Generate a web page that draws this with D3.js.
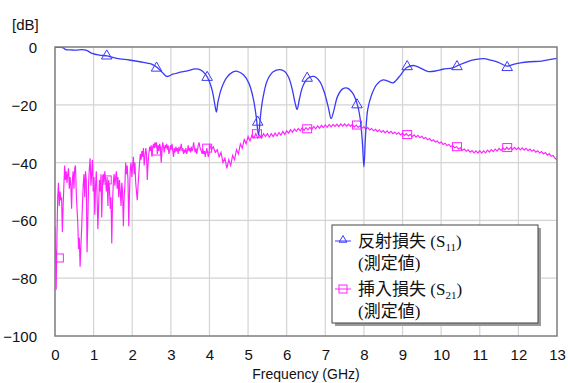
<!DOCTYPE html>
<html>
<head>
<meta charset="utf-8">
<script src="https://cdn.jsdelivr.net/npm/d3@7"></script>
<style>
  body { margin: 0; background: #fff; }
  svg { display: block; }
  .tick text { font-family: "Liberation Sans", Arial, sans-serif; font-size: 15px; fill: #111; }
</style>
</head>
<body>
<div id="chart"></div>
<script>
  /*
    Data
  */

  // x axis ticks (GHz) and y axis ticks (dB)
  let xTicks = [0, 1, 2, 3, 4, 5, 6, 7, 8, 9, 10, 11, 12, 13]
  let yTicks = [0, -20, -40, -60, -80, -100]

  // reflection loss S11 : [GHz, dB]
  let s11 = [
    [0.00, -0.1], [0.20, -0.2], [0.28, -0.9], [0.40, -1.0], [0.55, -1.1], [0.70, -0.9],
    [0.82, -1.2], [0.96, -2.2], [1.15, -2.8], [1.35, -3.1], [1.60, -3.9], [1.92, -4.5],
    [2.20, -5.1], [2.50, -5.9], [2.64, -7.0], [2.78, -8.8], [2.90, -10.2], [3.05, -9.4],
    [3.20, -8.9], [3.45, -8.2], [3.63, -7.6], [3.78, -8.0], [3.90, -9.5], [4.00, -12],
    [4.08, -15.5], [4.14, -20], [4.18, -22.5], [4.22, -19], [4.32, -14], [4.45, -10.5],
    [4.60, -8.7], [4.72, -8.4], [4.88, -9.6], [5.02, -12.5], [5.13, -17.5], [5.21, -24],
    [5.27, -30.5], [5.32, -24], [5.38, -18], [5.50, -11.5], [5.65, -8.6], [5.82, -7.8],
    [5.95, -8.5], [6.05, -10.5], [6.15, -15], [6.22, -19.5], [6.27, -21.6], [6.33, -18],
    [6.42, -13.5], [6.55, -10.8], [6.70, -10.2], [6.85, -11.8], [6.97, -15.5], [7.08, -21],
    [7.15, -24.8], [7.22, -22], [7.32, -17], [7.45, -14.5], [7.57, -14.2], [7.70, -15.8],
    [7.82, -19.5], [7.90, -24.5], [7.96, -33], [8.00, -41.5], [8.04, -31], [8.10, -21.5],
    [8.20, -16.5], [8.33, -13], [8.50, -11.4], [8.62, -11.8], [8.75, -12.4], [8.92, -10.2],
    [9.10, -7.2], [9.28, -6.4], [9.45, -7.2], [9.67, -8.5], [9.85, -8.3], [10.05, -7.7],
    [10.30, -7.2], [10.45, -6.3], [10.65, -5.2], [10.90, -4.3], [11.10, -4.0], [11.30, -4.6],
    [11.48, -5.3], [11.70, -6.6], [11.85, -6.1], [12.05, -5.5], [12.30, -5.1], [12.60, -4.9],
    [12.80, -4.4], [13.00, -3.9]
  ]

  // insertion loss S21 : [GHz, dB]
  let s21 = [
    [0.00, -62], [0.02, -75], [0.03, -84], [0.05, -66], [0.07, -52], [0.09, -47], [0.11, -55],
    [0.13, -50], [0.15, -53], [0.17, -52], [0.19, -64], [0.21, -55], [0.23, -48], [0.25, -41],
    [0.27, -46], [0.29, -43], [0.31, -47], [0.33, -44], [0.35, -42], [0.37, -49], [0.39, -45],
    [0.41, -48], [0.43, -56], [0.45, -46], [0.47, -43], [0.49, -49], [0.51, -42], [0.53, -41],
    [0.55, -50], [0.57, -56], [0.59, -61], [0.61, -70], [0.63, -66], [0.65, -76], [0.67, -69],
    [0.69, -63], [0.71, -55], [0.73, -48], [0.75, -44], [0.77, -52], [0.79, -43], [0.81, -46],
    [0.83, -71], [0.85, -60], [0.87, -47], [0.89, -42], [0.91, -38.5], [0.93, -48], [0.95, -44],
    [0.97, -39], [0.99, -50], [1.01, -45], [1.03, -58], [1.05, -48], [1.07, -43], [1.09, -52],
    [1.11, -63], [1.13, -55], [1.15, -46], [1.17, -50], [1.19, -44], [1.21, -59], [1.23, -48],
    [1.25, -44], [1.27, -47], [1.29, -43], [1.31, -46], [1.33, -50], [1.35, -45], [1.37, -55],
    [1.39, -46], [1.41, -49], [1.43, -56], [1.45, -52], [1.47, -68], [1.49, -54], [1.51, -47],
    [1.53, -44], [1.55, -48], [1.57, -45], [1.59, -43], [1.61, -49], [1.63, -45], [1.65, -52],
    [1.67, -46], [1.69, -50], [1.71, -55], [1.73, -47], [1.75, -50], [1.77, -62], [1.79, -52],
    [1.81, -48], [1.83, -40], [1.85, -44], [1.87, -41], [1.89, -46], [1.91, -62], [1.93, -50],
    [1.95, -42], [1.97, -40], [1.99, -45], [2.01, -41], [2.03, -38], [2.05, -44], [2.07, -40],
    [2.09, -47], [2.11, -50], [2.13, -53], [2.15, -48], [2.17, -44], [2.19, -40], [2.21, -37],
    [2.23, -39], [2.25, -36], [2.27, -38], [2.29, -35], [2.31, -41], [2.33, -38], [2.35, -35],
    [2.37, -37], [2.39, -46], [2.41, -40], [2.43, -37], [2.45, -34.5], [2.47, -36], [2.49, -34],
    [2.51, -38], [2.53, -35], [2.55, -33.5], [2.57, -35], [2.59, -33], [2.61, -34.5], [2.63, -33],
    [2.65, -37], [2.67, -34], [2.69, -36], [2.71, -33.5], [2.73, -35], [2.75, -40], [2.77, -36],
    [2.79, -33], [2.81, -34.5], [2.83, -36.5], [2.85, -34], [2.87, -35], [2.89, -33.5], [2.91, -35.5],
    [2.93, -34], [2.95, -37], [2.97, -36], [2.99, -34], [3.01, -35.5], [3.03, -33.5], [3.05, -36],
    [3.07, -38], [3.09, -35], [3.11, -36.5], [3.13, -34.5], [3.15, -36], [3.17, -35], [3.19, -37],
    [3.21, -34.5], [3.23, -36], [3.25, -35], [3.27, -33.5], [3.29, -36], [3.31, -35], [3.33, -37],
    [3.35, -35.5], [3.37, -36.5], [3.39, -35], [3.41, -37], [3.43, -36], [3.45, -34], [3.47, -36],
    [3.49, -35], [3.51, -36.5], [3.53, -34.5], [3.55, -36], [3.57, -35], [3.59, -33], [3.61, -35],
    [3.63, -36.5], [3.65, -35], [3.67, -37], [3.69, -35.5], [3.71, -34], [3.73, -33], [3.75, -34.5],
    [3.77, -35.5], [3.79, -36], [3.81, -37], [3.83, -35.5], [3.85, -37], [3.87, -36], [3.89, -38],
    [3.91, -36.5], [3.93, -35], [3.95, -36.5], [3.97, -38], [3.99, -37],
    [4.00, -33.5], [4.05, -35.5], [4.10, -34.5], [4.15, -36.5], [4.20, -35.5], [4.25, -38],
    [4.30, -36.5], [4.35, -40], [4.40, -38.5], [4.45, -42], [4.50, -39], [4.55, -41], [4.60, -37.5],
    [4.65, -39], [4.70, -35.5], [4.75, -37], [4.80, -33.5], [4.85, -35], [4.90, -32], [4.95, -33.5],
    [5.00, -31], [5.05, -32.5], [5.10, -30.5], [5.15, -31.5], [5.20, -30], [5.25, -31.5], [5.30, -30.5],
    [5.35, -31.5], [5.40, -30], [5.45, -31], [5.50, -30], [5.55, -31.2], [5.60, -30], [5.65, -31],
    [5.70, -29.8], [5.75, -30.8], [5.80, -29.6], [5.85, -30.5], [5.90, -29.2], [5.95, -30.2],
    [6.00, -29], [6.05, -29.8], [6.10, -28.6], [6.15, -29.5], [6.20, -28.4], [6.25, -29.2],
    [6.30, -28.2], [6.35, -29], [6.40, -28], [6.45, -28.9], [6.50, -27.9], [6.55, -28.7],
    [6.60, -27.8], [6.65, -28.5], [6.70, -27.5], [6.75, -28.3], [6.80, -27.3], [6.85, -28.1],
    [6.90, -27.1], [6.95, -27.9], [7.00, -27], [7.05, -27.8], [7.10, -26.8], [7.15, -27.6],
    [7.20, -26.8], [7.25, -27.5], [7.30, -26.7], [7.35, -27.5], [7.40, -26.6], [7.45, -27.4],
    [7.50, -26.6], [7.55, -27.4], [7.60, -26.7], [7.65, -27.5], [7.70, -26.8], [7.75, -27.7],
    [7.80, -27], [7.85, -27.8], [7.90, -27.3], [7.95, -28.1], [8.00, -27.6], [8.05, -28.4],
    [8.10, -27.9], [8.15, -28.7], [8.20, -28.2], [8.25, -29], [8.30, -28.5], [8.35, -29.3],
    [8.40, -28.7], [8.45, -29.5], [8.50, -28.9], [8.55, -29.7], [8.60, -29], [8.65, -29.8],
    [8.70, -29.2], [8.75, -30], [8.80, -29.4], [8.85, -30.2], [8.90, -29.6], [8.95, -30.4],
    [9.00, -29.8], [9.05, -30.6], [9.10, -30], [9.15, -30.8], [9.20, -30.2], [9.25, -31],
    [9.30, -30.4], [9.35, -31.2], [9.40, -30.6], [9.45, -31.4], [9.50, -30.9], [9.55, -31.7],
    [9.60, -31.3], [9.65, -32.1], [9.70, -31.7], [9.75, -32.5], [9.80, -32.1], [9.85, -32.9],
    [9.90, -32.5], [9.95, -33.3], [10.00, -32.9], [10.05, -33.7], [10.10, -33.3], [10.15, -34.1],
    [10.20, -33.7], [10.25, -34.5], [10.30, -34.1], [10.35, -34.9], [10.40, -34.5], [10.45, -35.3],
    [10.50, -34.9], [10.55, -35.7], [10.60, -35.3], [10.65, -36.1], [10.70, -35.6], [10.75, -36.4],
    [10.80, -35.8], [10.85, -36.6], [10.90, -35.9], [10.95, -36.7], [11.00, -35.9], [11.05, -36.7],
    [11.10, -35.9], [11.15, -36.6], [11.20, -35.7], [11.25, -36.4], [11.30, -35.5], [11.35, -36.2],
    [11.40, -35.3], [11.45, -36], [11.50, -35.1], [11.55, -35.8], [11.60, -34.9], [11.65, -35.6],
    [11.70, -34.7], [11.75, -35.5], [11.80, -34.7], [11.85, -35.5], [11.90, -34.7], [11.95, -35.5],
    [12.00, -34.8], [12.05, -35.6], [12.10, -34.9], [12.15, -35.7], [12.20, -35.1], [12.25, -35.9],
    [12.30, -35.3], [12.35, -36.1], [12.40, -35.6], [12.45, -36.4], [12.50, -35.9], [12.55, -36.7],
    [12.60, -36.2], [12.65, -37], [12.70, -36.5], [12.75, -37.4], [12.80, -36.9], [12.85, -37.8],
    [12.90, -37.5], [12.95, -38.5], [13.00, -39]
  ]

  // marker positions : [GHz, dB]
  let s11Markers = [[0.10, 1], [1.34, -3.1], [2.63, -7.3], [3.94, -10.5], [5.25, -26],
    [6.53, -10.8], [7.82, -20], [9.12, -6.8], [10.41, -6.8], [11.71, -7.1]]
  let s21Markers = [[0.10, -73], [1.34, -46], [2.63, -36], [3.94, -35], [5.23, -30],
    [6.53, -28.3], [7.82, -27], [9.12, -30.3], [10.41, -34.5], [11.71, -34.8]]

  let legendLines = [
    { name: '反射損失 (S', sub: '11', note: '(測定値)', color: '#3b3bf6', symbol: 'tri' },
    { name: '挿入損失 (S', sub: '21', note: '(測定値)', color: '#ff22ff', symbol: 'sq' }
  ]

  /*
    Chart setup
  */

  let width = 568, height = 383
  let plot = { left: 55, right: 557, top: 47, bottom: 336 }

  let svg = d3.select('#chart').append('svg')
    .attr('width', width)
    .attr('height', height)

  let x = d3.scaleLinear().domain([0, 13]).range([plot.left, plot.right])
  let y = d3.scaleLinear().domain([-100, 0]).range([plot.bottom, plot.top])

  svg.append('clipPath').attr('id', 'clip')
    .append('rect')
    .attr('x', plot.left).attr('y', plot.top)
    .attr('width', plot.right - plot.left).attr('height', plot.bottom - plot.top)

  // grid
  svg.append('g').selectAll('line.gx')
    .data(xTicks.slice(1, -1))
    .enter().append('line')
    .attr('x1', d => x(d)).attr('x2', d => x(d))
    .attr('y1', plot.top).attr('y2', plot.bottom)
    .attr('stroke', '#d4d4d4').attr('stroke-width', 1.2)

  svg.append('g').selectAll('line.gy')
    .data(yTicks.slice(1, -1))
    .enter().append('line')
    .attr('x1', plot.left).attr('x2', plot.right)
    .attr('y1', d => y(d)).attr('y2', d => y(d))
    .attr('stroke', '#d4d4d4').attr('stroke-width', 1.2)

  // axes labels
  let xAxis = svg.append('g')
    .attr('transform', 'translate(0,' + (plot.bottom + 13) + ')')
    .call(d3.axisBottom(x).tickValues(xTicks).tickSize(0).tickPadding(0))
  xAxis.select('.domain').remove()

  let yAxis = svg.append('g')
    .attr('transform', 'translate(' + (plot.left - 18) + ',0)')
    .call(d3.axisLeft(y).tickValues(yTicks).tickSize(0).tickPadding(0))
  yAxis.select('.domain').remove()
  yAxis.selectAll('text').attr('dy', '0.36em')

  svg.append('text')
    .attr('x', 12).attr('y', 30)
    .style('font-family', '"Liberation Sans", Arial, sans-serif')
    .style('font-size', '15px').attr('fill', '#111')
    .text('[dB]')

  svg.append('text')
    .attr('x', 306).attr('y', 379)
    .attr('text-anchor', 'middle')
    .style('font-family', '"Liberation Sans", Arial, sans-serif')
    .style('font-size', '14px').attr('fill', '#111')
    .text('Frequency (GHz)')

  /*
    Series
  */

  let lineGen = d3.line()
    .x(d => x(d[0]))
    .y(d => y(d[1]))

  let series = svg.append('g').attr('clip-path', 'url(#clip)')

  series.append('path')
    .datum(s21)
    .attr('fill', 'none')
    .attr('stroke', legendLines[1].color)
    .attr('stroke-width', 1.15)
    .attr('d', lineGen)

  series.append('path')
    .datum(s11)
    .attr('fill', 'none')
    .attr('stroke', legendLines[0].color)
    .attr('stroke-width', 1.3)
    .attr('d', lineGen.curve(d3.curveCatmullRom.alpha(0.5)))

  let tri = d3.symbol().type(d3.symbolTriangle).size(48)

  series.selectAll('.m11')
    .data(s11Markers)
    .enter().append('path')
    .attr('transform', d => 'translate(' + x(d[0]) + ',' + y(d[1]) + ')')
    .attr('d', tri)
    .attr('fill', 'none')
    .attr('stroke', legendLines[0].color)
    .attr('stroke-width', 1)

  series.selectAll('.m21')
    .data(s21Markers)
    .enter().append('rect')
    .attr('x', d => x(d[0]) - 4.5)
    .attr('y', d => y(d[1]) - 4)
    .attr('width', 9).attr('height', 8)
    .attr('fill', 'none')
    .attr('stroke', legendLines[1].color)
    .attr('stroke-width', 1)

  // frame
  svg.append('rect')
    .attr('x', plot.left).attr('y', plot.top)
    .attr('width', plot.right - plot.left).attr('height', plot.bottom - plot.top)
    .attr('fill', 'none')
    .attr('stroke', '#7c7c7c')
    .attr('stroke-width', 1.5)

  /*
    Legend
  */

  let legend = svg.append('g').attr('transform', 'translate(332,225)')

  legend.append('rect')
    .attr('x', 3).attr('y', 3).attr('width', 206).attr('height', 98)
    .attr('fill', '#9a9a9a')
  legend.append('rect')
    .attr('x', 0).attr('y', 0).attr('width', 206).attr('height', 98)
    .attr('fill', '#fff').attr('stroke', '#444').attr('stroke-width', 1)

  let entry = legend.selectAll('.entry')
    .data(legendLines)
    .enter().append('g')
    .attr('transform', (d, i) => 'translate(0,' + (i * 48) + ')')

  entry.append('line')
    .attr('x1', 3).attr('x2', 19).attr('y1', 16).attr('y2', 16)
    .attr('stroke', d => d.color).attr('stroke-width', 1)

  entry.filter(d => d.symbol === 'tri').append('path')
    .attr('transform', 'translate(11,15)')
    .attr('d', d3.symbol().type(d3.symbolTriangle).size(26))
    .attr('fill', 'none')
    .attr('stroke', d => d.color)

  entry.filter(d => d.symbol === 'sq').append('rect')
    .attr('x', 7).attr('y', 12).attr('width', 8).attr('height', 8)
    .attr('fill', 'none')
    .attr('stroke', d => d.color)

  let label = entry.append('text')
    .attr('x', 26).attr('y', 22)
    .style('font-family', '"Liberation Serif", "Noto Sans CJK JP", serif')
    .style('font-size', '17px').attr('fill', '#111')
  label.append('tspan').text(d => d.name)
  label.append('tspan')
    .attr('dy', 4).style('font-size', '11px')
    .text(d => d.sub)
  label.append('tspan')
    .attr('dy', -4).text(')')

  entry.append('text')
    .attr('x', 26).attr('y', 44)
    .style('font-family', '"Liberation Serif", "Noto Sans CJK JP", serif')
    .style('font-size', '17px').attr('fill', '#111')
    .text(d => d.note)
</script>
</body>
</html>
